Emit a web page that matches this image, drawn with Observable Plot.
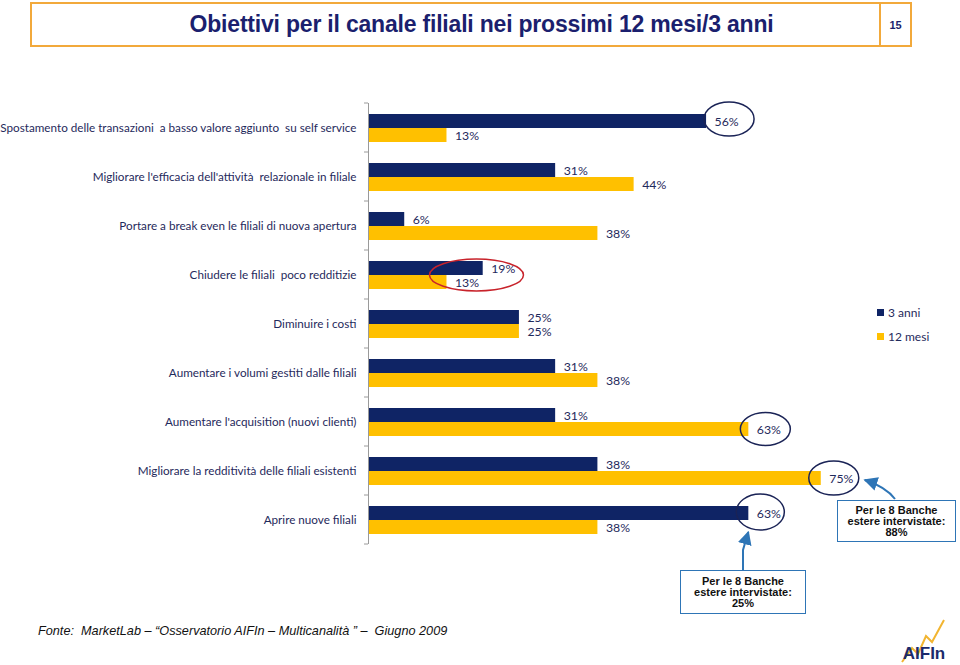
<!DOCTYPE html>
<html><head><meta charset="utf-8">
<script src="https://cdn.jsdelivr.net/npm/d3@7"></script>
<script src="https://cdn.jsdelivr.net/npm/@observablehq/plot@0.6"></script>
<style>
body{margin:0;background:#fff;}
#wrap{position:relative;width:960px;height:665px;overflow:hidden;font-family:"Liberation Sans",Arial,sans-serif;}
#wrap svg.main{position:absolute;left:0;top:0;}
.abs{position:absolute;}
#titlebox{left:30px;top:2px;width:849px;height:41px;border:2px solid #f2a93b;border-right:none;display:flex;align-items:center;justify-content:center;}
#titlebox span{font-weight:bold;font-size:23px;color:#1b1f6e;margin-left:50px;letter-spacing:-0.2px;}
#pagebox{left:879px;top:2px;width:29px;height:41px;border:2px solid #f2a93b;display:flex;align-items:center;justify-content:center;font-weight:bold;font-size:11px;color:#1b1f6e;}
.legend{font-family:Lato,sans-serif;font-size:12px;color:#1f2a5c;display:flex;align-items:center;}
.legend i{display:inline-block;width:7px;height:7px;margin-right:4px;}
.callout{border:1.5px solid #2e75b6;background:#fff;text-align:center;font-weight:bold;font-size:11px;line-height:11px;color:#111;display:flex;flex-direction:column;justify-content:center;}
#footer{left:38px;top:624px;font-style:italic;font-size:12.7px;color:#111;white-space:pre;}
</style></head>
<body><div id="wrap"></div>
<script>
const categories = [
  "Spostamento delle transazioni  a basso valore aggiunto  su self service",
  "Migliorare l'efficacia dell'attività  relazionale in filiale",
  "Portare a break even le filiali di nuova apertura",
  "Chiudere le filiali  poco redditizie",
  "Diminuire i costi",
  "Aumentare i volumi gestiti dalle filiali",
  "Aumentare l'acquisition (nuovi clienti)",
  "Migliorare la redditività delle filiali esistenti",
  "Aprire nuove filiali"
];
const series = ["3 anni", "12 mesi"];
const anni3 = [56, 31, 6, 19, 25, 31, 31, 38, 63];
const mesi12 = [13, 44, 38, 13, 25, 38, 63, 75, 38];
const titleText = "Obiettivi per il canale filiali nei prossimi 12 mesi/3 anni";
const pageNum = "15";
const calloutText1 = ["Per le 8 Banche", "estere intervistate:", "88%"];
const calloutText2 = ["Per le 8 Banche", "estere intervistate:", "25%"];
const footerText = "Fonte:  MarketLab \u2013 \u201cOsservatorio AIFIn \u2013 Multicanalità \u201d \u2013  Giugno 2009";

const data = categories.flatMap((c, i) => [
  {cat: c, s: series[0], v: anni3[i]},
  {cat: c, s: series[1], v: mesi12[i]}
]);

const navy = "#0f2465", yellow = "#ffc000", txt = "#1f2a5c";

const plot = Plot.plot({
  width: 960, height: 665,
  marginTop: 101, marginBottom: 120, marginLeft: 368, marginRight: 4,
  style: {fontFamily: "Lato, sans-serif", fontSize: "11.7px", color: txt, background: "transparent"},
  x: {domain: [0, 97.4], axis: null},
  fy: {domain: categories, padding: 0, label: null},
  y: {domain: series, paddingInner: 0, paddingOuter: 0.644, axis: null},
  color: {domain: series, range: [navy, yellow]},
  marks: [
    Plot.barX(data, {fy: "cat", y: "s", x: "v", fill: "s"}),
    Plot.text(data, {fy: "cat", y: "s", x: "v", text: d => d.v + "%", dx: 8, dy: 1, textAnchor: "start", fill: txt, fontSize: 12.3}),
    Plot.ruleX([0], {stroke: "#9a9a9a", strokeWidth: 1}),
    Plot.axisFy({anchor: "left", tickSize: 0, tickPadding: 12, label: null, fontSize: 11.7})
  ]
});
plot.classList.add("main");
const wrap = document.getElementById("wrap");
wrap.appendChild(plot);

const xS = plot.scale("x"), fyS = plot.scale("fy"), yS = plot.scale("y");
const x = v => xS.apply(v);
const rowCenter = (i, s) => fyS.apply(categories[i]) + (yS.apply(s) - yS.range[0]) + yS.bandwidth / 2;

const svg = d3.select(plot);
const g = svg.append("g");
// category tick marks on the axis
const bounds = categories.map(c => fyS.apply(c)).concat([fyS.apply(categories[categories.length - 1]) + fyS.bandwidth]);
g.selectAll("line.tk").data(bounds).join("line")
  .attr("x1", x(0) - 4).attr("x2", x(0)).attr("y1", d => d).attr("y2", d => d)
  .attr("stroke", "#9a9a9a");

// highlight ellipses
const ell = [
  {i: 0, s: "3 anni", v: anni3[0], dx: 23, dy: -2, rx: 25, ry: 17, c: "#1a2356"},
  {i: 6, s: "12 mesi", v: mesi12[6], dx: 17, dy: 0, rx: 25, ry: 16.5, c: "#1a2356"},
  {i: 7, s: "12 mesi", v: mesi12[7], dx: 13, dy: 0, rx: 25, ry: 17, c: "#1a2356"},
  {i: 8, s: "3 anni", v: anni3[8], dx: 12, dy: -1, rx: 24, ry: 18, c: "#1a2356"},
  {i: 3, s: "3 anni", v: mesi12[3], dx: 30, dy: 7, rx: 47, ry: 16, c: "#c8232b"}
];
g.selectAll("ellipse").data(ell).join("ellipse")
  .attr("cx", d => x(d.v) + d.dx).attr("cy", d => rowCenter(d.i, d.s) + d.dy)
  .attr("rx", d => d.rx).attr("ry", d => d.ry)
  .attr("fill", "none").attr("stroke", d => d.c).attr("stroke-width", 1.5);

// arrows
const defs = svg.append("defs");
defs.append("marker").attr("id", "ah").attr("viewBox", "0 0 10 10").attr("refX", 9).attr("refY", 5)
  .attr("markerWidth", 7).attr("markerHeight", 7).attr("orient", "auto")
  .append("path").attr("d", "M0,0 L10,5 L0,10 z").attr("fill", "#2e75b6");
const e75 = {x: x(mesi12[7]) + 13 + 26, y: rowCenter(7, "12 mesi")};
g.append("path").attr("d", `M895,499 Q886,487 ${e75.x + 5},${e75.y + 2}`)
  .attr("fill", "none").attr("stroke", "#2e75b6").attr("stroke-width", 2).attr("marker-end", "url(#ah)");
const e63 = {x: x(anni3[8]), y: rowCenter(8, "3 anni") + 17};
g.append("path").attr("d", `M743,570 L743,550 L${e63.x},${e63.y + 2}`)
  .attr("fill", "none").attr("stroke", "#2e75b6").attr("stroke-width", 2).attr("marker-end", "url(#ah)");

// logo
const lg = svg.append("g");
lg.append("polyline").attr("points", "902,662 912,648 918,654 926,636 932,642 944,620")
  .attr("fill", "none").attr("stroke", "#f2b531").attr("stroke-width", 2);
lg.append("text").attr("x", 924).attr("y", 659).attr("font-family", "Liberation Sans, Arial")
  .attr("font-weight", "bold").attr("font-size", 17).attr("fill", "#1b2a6b").text("AIFIn");

// HTML pieces
function add(html, cls, style) {
  const d = document.createElement("div");
  d.className = "abs " + (cls || "");
  d.setAttribute("style", style || "");
  d.innerHTML = html;
  wrap.appendChild(d);
  return d;
}
add(`<span>${titleText}</span>`, "", "").id = "titlebox";
add(pageNum, "", "").id = "pagebox";
add(`<i style="background:${navy}"></i>${series[0]}`, "legend", "left:877px;top:305px;");
add(`<i style="background:${yellow}"></i>${series[1]}`, "legend", "left:877px;top:329px;");
add(calloutText1.join("<br>"), "callout", "left:837px;top:500px;width:117px;height:40px;");
add(calloutText2.join("<br>"), "callout", "left:680px;top:570px;width:124px;height:42px;");
add(footerText, "", "").id = "footer";
</script>
</body></html>
